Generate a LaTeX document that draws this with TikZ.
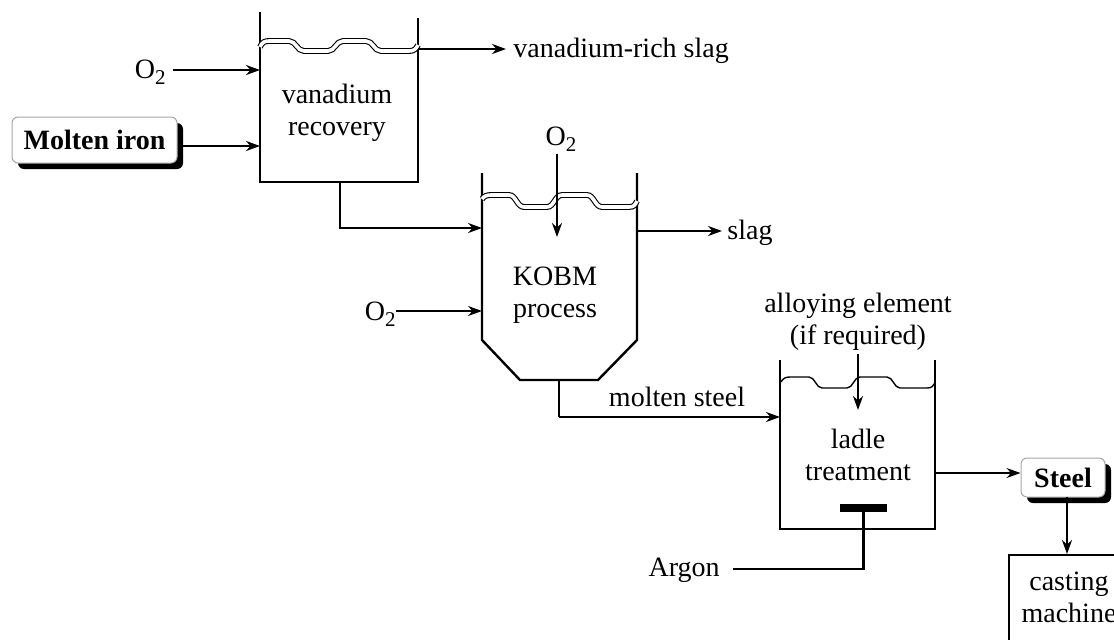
\documentclass[tikz,border=0pt]{standalone}
\usepackage{fontspec}
\setmainfont{Liberation Serif}
\usetikzlibrary{arrows.meta,shadows,calc}
\newcommand{\oxy}{O\raisebox{-3pt}{\fontsize{10.5}{12}\selectfont 2}}
\begin{document}
\begin{tikzpicture}[x=0.5pt,y=-0.5pt,
  txt/.style={font=\fontsize{14}{16}\selectfont, inner sep=0pt, align=center},
  wall/.style={line width=1.2pt, line join=miter},
  flow/.style={line width=1.2pt, -{Stealth[length=7pt,width=5pt]}},
  thinflow/.style={line width=0.7pt, -{Stealth[length=7pt,width=5pt]}},
  pipe/.style={line width=1.2pt},
  thinpipe/.style={line width=0.7pt},
  wavy/.style={line width=0.55pt, double=white, double distance=1.8pt},
  ladlewave/.style={line width=0.7pt},
  endbox/.style={draw=gray!70, line width=0.5pt, rounded corners=3pt, fill=white,
    font=\bfseries\fontsize{14}{16}\selectfont, inner sep=0pt,
    drop shadow={shadow xshift=3pt, shadow yshift=-3pt, opacity=1, fill=black}},
  plainbox/.style={draw, line width=1.2pt}
]
\useasboundingbox (0,0) rectangle (1114,639);
\clip (0,0) rectangle (1114,639);

% ---------- vanadium recovery vessel ----------
\coordinate (vTL) at (260,12);
\coordinate (vTR) at (418,18);
\coordinate (vBL) at (260,182);
\coordinate (vBR) at (418,182);
\draw[wall] (vTL) -- (vBL) -- (vBR) -- (vTR);
\draw[wavy] (260,47) .. controls +(2,-5) and +(-4,0) .. (269,41) -- (289,41)
  .. controls +(7,0) and +(-7,0) .. (304,51) -- (328,51)
  .. controls +(7,0) and +(-7,0) .. (343,41) -- (366,41)
  .. controls +(7,0) and +(-7,0) .. (381,51) -- (409,51)
  .. controls +(5,0) and +(-2,4) .. (418,45);
\node[txt] (vtext) at (337,113) {vanadium\\recovery};
\coordinate (vin1) at (260,70);
\coordinate (vin2) at (260,146);
\coordinate (vout) at (418,49);
\coordinate (vbot) at (340,182);

\node[txt, anchor=east] (o2a) at (166,72) {\oxy};
\coordinate (o2aend) at (173,70);
\draw[flow] (o2aend) -- (vin1);

\node[endbox, minimum width=82.5pt, minimum height=23pt] (iron) at (94.5,140) {Molten iron};
\draw[flow] (iron.east |- vin2) -- (vin2);

\coordinate (vslagend) at (506,49);
\node[txt, anchor=west] (vslag) at (513,51) {vanadium-rich slag};
\draw[flow] (vout) -- (vslagend);

% ---------- KOBM vessel ----------
\coordinate (kTL) at (482,173);
\coordinate (kTR) at (637,173);
\coordinate (kML) at (482,340);
\coordinate (kMR) at (637,340);
\coordinate (kBL) at (520,380);
\coordinate (kBR) at (598,380);
\draw[wall] (kTL) -- (kML) -- (kBL) -- (kBR) -- (kMR) -- (kTR);
\draw[wavy] (482,199) .. controls +(2,-3) and +(-4,0) .. (491,195) -- (509,195)
  .. controls +(7,0) and +(-7,0) .. (524,207) -- (547,207)
  .. controls +(7,0) and +(-7,0) .. (562,195) -- (587,195)
  .. controls +(7,0) and +(-7,0) .. (602,207) -- (629,207)
  .. controls +(5,0) and +(-2,4) .. (637,201);
\node[txt] (ktext) at (555,295) {KOBM\\process};
\coordinate (kin1) at (482,228);
\coordinate (kin2) at (482,311);
\coordinate (kout) at (637,231);
\coordinate (kbot) at (559,380);
\coordinate (ktop) at (557,237);

\draw[pipe, -{Stealth[length=7pt,width=5pt]}] (vbot) |- (kin1);

\node[txt] (o2b) at (561,139) {\oxy};
\draw[flow] (o2b.south -| ktop) ++(0,2) -- (ktop);

\node[txt, anchor=east] (o2c) at (396,314) {\oxy};
\draw[thinflow] (o2c.east |- kin2) -- (kin2);

\coordinate (kslagend) at (722,231);
\node[txt, anchor=west] (kslag) at (727,233) {slag};
\draw[flow] (kout) -- (kslagend);

% ---------- ladle ----------
\coordinate (lTL) at (780,360);
\coordinate (lTR) at (935,360);
\coordinate (lBL) at (780,529);
\coordinate (lBR) at (935,529);
\draw[wall] (lTL) -- (lBL) -- (lBR) -- (lTR);
\draw[ladlewave] (781,382) .. controls +(2,-4) and +(-4,0) .. (790,377) -- (809,377)
  .. controls +(6,0) and +(-6,0) .. (822,388) -- (847,388)
  .. controls +(6,0) and +(-6,0) .. (860,377) -- (887,377)
  .. controls +(6,0) and +(-6,0) .. (900,388) -- (927,388)
  .. controls +(5,0) and +(-2,3) .. (935,383);
\node[txt] (ltext) at (858,455) {ladle\\treatment};
\coordinate (lin) at (780,417);
\coordinate (ltop) at (858,410);
\coordinate (lout) at (935,473);

\node[txt] (molten) at (677,397) {molten steel};
\draw[thinpipe] (kbot) -- (kbot |- lin);
\draw[flow] (kbot |- lin) -- (lin);

\node[txt] (alloy) at (858,322) {alloying element\\(if required)};
\coordinate (alloytop) at (858,354);
\draw[flow] (alloytop) -- (ltop);

\node[fill=black, minimum width=23.5pt, minimum height=4pt, inner sep=0pt] (bar) at (863.5,508) {};
\node[txt, anchor=east] (argon) at (720,570) {Argon};
\coordinate (argstart) at (733,569);
\draw[pipe] (bar.south) |- (argstart);

% ---------- steel & casting ----------
\node[endbox, minimum width=42pt, minimum height=19.5pt] (steel) at (1063,477.5) {Steel};
\draw[thinflow] (lout) -- (steel.west |- lout);

\node[plainbox, anchor=north west, minimum width=70pt, minimum height=70pt] (cast) at (1008,554) {};
\node[txt] (casttext) at (1069,597) {casting\\machine};
\draw[flow] (1067,497) -- (1067,554);
\end{tikzpicture}
\end{document}
